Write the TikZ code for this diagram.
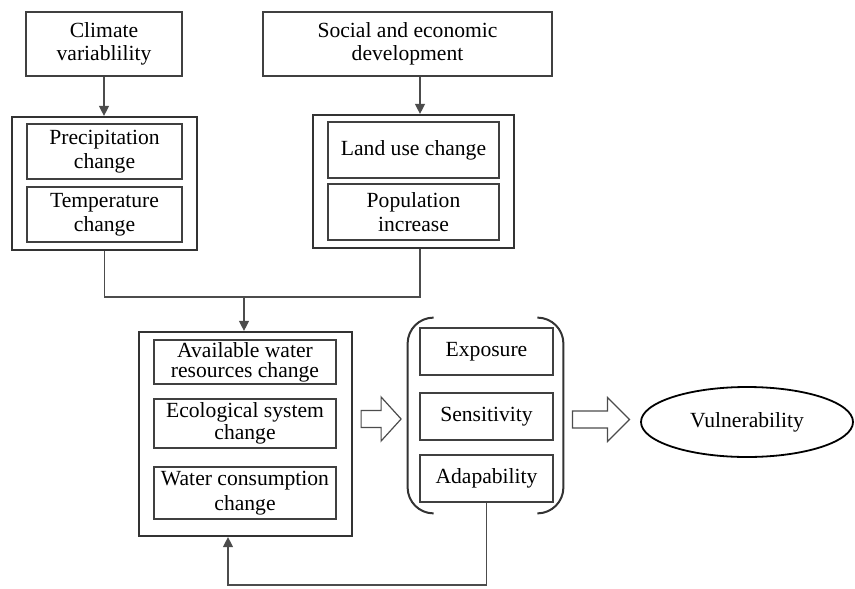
\documentclass[tikz,border=0pt]{standalone}
\usepackage{fontspec}
\setmainfont{Liberation Serif}
\usetikzlibrary{arrows.meta, shapes.geometric, calc}

\begin{document}
\begin{tikzpicture}[x=0.5pt, y=-0.5pt,
    every node/.style={font=\fontsize{10.8}{11.8}\selectfont, align=center, inner sep=1pt},
    box/.style={draw=black!75, line width=0.6pt, rectangle},
    group/.style={draw=black!80, line width=1.1pt, rectangle},
    link/.style={draw=black!70, line width=0.65pt, -{Triangle[length=5pt, width=5pt]}},
    joinline/.style={draw=black!70, line width=0.65pt},
    hollow/.style={draw=black!70, line width=0.6pt, fill=white},
    paren/.style={draw=black!80, line width=1pt, rounded corners=13pt}]
    \useasboundingbox (0,0) rectangle (855,588);

    % drivers
    \node[box, minimum width=78pt, minimum height=32pt] (climate) at (104,44) {Climate\\variablility};
    \node[box, minimum width=144.5pt, minimum height=32pt] (social) at (407.5,44) {Social and economic\\development};

    \node[group, minimum width=92.5pt, minimum height=66.5pt] (lgrp) at (104.5,183.5) {};
    \node[box, minimum width=77.5pt, minimum height=27.5pt] (precip) at (104.5,151.5) {Precipitation\\change};
    \node[box, minimum width=77.5pt, minimum height=27.5pt] (temp) at (104.5,214.5) {Temperature\\change};

    \node[group, minimum width=100.5pt, minimum height=66.5pt] (rgrp) at (413.5,181.5) {};
    \node[box, minimum width=85.5pt, minimum height=28pt] (landuse) at (413.5,150) {Land use change};
    \node[box, minimum width=85.5pt, minimum height=28pt] (popul) at (413.5,212) {Population\\increase};

    % impacts
    \node[group, minimum width=106.5pt, minimum height=102pt] (water) at (245.5,434) {};
    \node[box, minimum width=91pt, minimum height=22pt, font=\fontsize{10.8}{10}\selectfont] (avail) at (245,362) {Available water\\resources change};
    \node[box, minimum width=91pt, minimum height=24.5pt, font=\fontsize{10.8}{11}\selectfont] (eco) at (245,423.5) {Ecological system\\change};
    \node[box, minimum width=91pt, minimum height=26pt, font=\fontsize{10.8}{12.5}\selectfont] (consum) at (245,493) {Water consumption\\change};

    \node[minimum width=77.5pt, minimum height=97.5pt] (dimgrp) at (485.5,415.5) {};
    \node[box, minimum width=66.5pt, minimum height=23.5pt] (expo) at (486.5,351.5) {Exposure};
    \node[box, minimum width=66.5pt, minimum height=23.5pt] (sens) at (486.5,416.5) {Sensitivity};
    \node[box, minimum width=66.5pt, minimum height=23.5pt] (adap) at (486.5,478.5) {Adapability};
    \draw[paren] ([xshift=12.5pt]dimgrp.north west) -- (dimgrp.north west) -- (dimgrp.south west) -- ([xshift=12.5pt]dimgrp.south west);
    \draw[paren] ([xshift=-12.5pt]dimgrp.north east) -- (dimgrp.north east) -- (dimgrp.south east) -- ([xshift=-12.5pt]dimgrp.south east);

    \node[draw=black, line width=0.9pt, ellipse, minimum width=106pt, minimum height=35pt] (vuln) at (747,422) {Vulnerability};

    % connectors
    \coordinate (rjoin) at (420,297);
    \coordinate (ljoin) at (lgrp.south |- rjoin);
    \coordinate (mjoin) at (244,297);
    \coordinate (fb) at (228,585);

    \draw[link] (climate.south) -- (climate.south |- lgrp.north);
    \draw[link] (social.south -| rjoin) -- (rgrp.north -| rjoin);
    \draw[joinline] (lgrp.south) -- (ljoin) -- (rjoin) -- (rgrp.south -| rjoin);
    \draw[link] (mjoin) -- (water.north -| mjoin);
    \draw[link] (adap.south) |- (fb) -- (water.south -| fb);

    \draw[hollow] ($(water.east |- sens)+(8,-6)$) -- ++(20,0) -- ++(0,-13.5) -- ++(20,22) -- ++(-20,22) -- ++(0,-13.5) -- ++(-20,0) -- cycle;
    \draw[hollow] ($(dimgrp.east |- sens)+(9,-5.5)$) -- ++(35,0) -- ++(0,-13.5) -- ++(22,22) -- ++(-22,22) -- ++(0,-13.5) -- ++(-35,0) -- cycle;
\end{tikzpicture}
\end{document}
